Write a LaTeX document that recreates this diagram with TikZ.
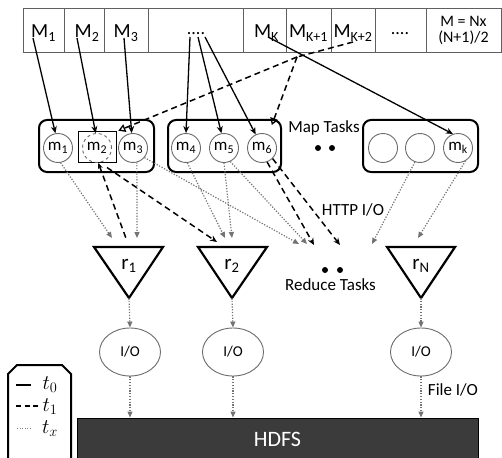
\documentclass[tikz,border=0pt]{standalone}
\usepackage{fontspec}
\setmainfont{Carlito}
\usetikzlibrary{arrows.meta,shapes.geometric,calc}
\begin{document}
\begin{tikzpicture}[x=1pt,y=-1pt,
  cellbase/.style={draw=gray!75!black, line width=0.9pt, minimum height=44pt, inner sep=0pt},
  cell/.style={cellbase, text height=18pt, text depth=2pt, font=\fontsize{20}{22}\selectfont},
  mapbox/.style={draw, line width=2pt, rounded corners=8pt, minimum height=52pt, inner sep=0pt},
  mc/.style={circle, draw=gray!85!black, line width=0.9pt, minimum size=29pt, inner sep=0pt, font=\fontsize{17}{18}\selectfont},
  tri/.style={draw, line width=2.2pt, line join=miter},
  lbl/.style={font=\fontsize{17}{18}\selectfont, inner sep=1pt},
  io/.style={ellipse, draw=gray!85!black, line width=0.9pt, minimum width=61pt, minimum height=48pt, inner sep=0pt, font=\fontsize{15}{16}\selectfont},
  lgtext/.style={font=\fontsize{20}{20}\selectfont, inner sep=0pt},
  tzero/.style={line width=1.3pt, -{Stealth[length=7pt,width=6pt]}},
  tone/.style={line width=1.5pt, dash pattern=on 6pt off 4pt, -{Stealth[length=7pt,width=6pt]}},
  toneopen/.style={line width=1.5pt, dash pattern=on 6pt off 4pt, -{Triangle[open,length=7pt,width=8pt,line width=1.3pt]}},
  tx/.style={draw=gray!90!black, line width=1.2pt, dash pattern=on 1.2pt off 1.6pt, -{Triangle[length=6pt,width=5pt,fill=gray!90!black]}}
]
\useasboundingbox (0,0) rectangle (502,457);
\fill[white] (0,0) rectangle (502,457);

% top strip
\node[cell, minimum width=41pt] (c1) at (43.5,30) {M\textsubscript{1}};
\node[cell, minimum width=40pt] (c2) at (84,30) {\hspace{6pt}M\textsubscript{2}};
\node[cell, minimum width=44pt] (c3) at (126,30) {M\textsubscript{3}};
\node[cell, minimum width=95pt] (c4) at (195.5,30) {};
\node[lbl, font=\fontsize{18}{18}\selectfont] (dots1) at (196,34) {....};
\node[cell, minimum width=43pt] (c5) at (264.5,30) {\hspace{4pt}M\textsubscript{K}};
\node[cell, minimum width=45pt] (c6) at (308.5,30) {M\textsubscript{K+1}};
\node[cell, minimum width=44pt] (c7) at (353,30) {M\textsubscript{K+2}};
\node[cell, minimum width=51pt] (c8) at (400.5,30) {};
\node[lbl, font=\fontsize{18}{18}\selectfont] (dots2) at (400,34) {....};
\node[cellbase, minimum width=75pt, align=center, font=\fontsize{16}{16}\selectfont] (c9) at (463.5,30) {M = Nx\\(N+1)/2};

% map tasks
\node[mapbox, minimum width=115pt] (b1) at (96.5,146) {};
\node[mapbox, minimum width=113pt] (b2) at (224.5,146) {};
\node[mapbox, minimum width=115pt] (b3) at (420.5,146) {};
\node[mc] (m1) at (58,148) {m\textsubscript{1}};
\node[draw, line width=1pt, minimum width=38pt, minimum height=30pt, inner sep=0pt] (m2box) at (97,147) {};
\node[mc, dashed] (m2) at (97,148) {m\textsubscript{2}};
\node[mc] (m3) at (133,148) {m\textsubscript{3}};
\node[mc] (m4) at (186,148) {m\textsubscript{4}};
\node[mc] (m5) at (224,148) {m\textsubscript{5}};
\node[mc] (m6) at (262,148) {m\textsubscript{6}};
\node[mc] (n1) at (383,148) {};
\node[mc] (n2) at (420,148) {};
\node[mc] (mk) at (458,148) {m\textsubscript{k}};
\node[lbl] (maptasks) at (324,128) {Map Tasks};
\fill (318,148) circle (3pt) (332,148) circle (3pt);

% reduce tasks
\draw[tri] (94,247) -- (163,247) -- (129,298) -- cycle;
\draw[tri] (198,247) -- (267,247) -- (232,298) -- cycle;
\draw[tri] (387,247) -- (455,247) -- (421,298) -- cycle;
\node[font=\fontsize{21}{22}\selectfont, inner sep=0pt] (r1) at (129,266) {r\textsubscript{1}};
\node[font=\fontsize{21}{22}\selectfont, inner sep=0pt] (r2) at (232,266) {r\textsubscript{2}};
\node[font=\fontsize{21}{22}\selectfont, inner sep=0pt] (rN) at (421,266) {r\textsubscript{N}};
\coordinate (r1a) at (129,298);
\coordinate (r2a) at (232,298);
\coordinate (rNa) at (421,298);
\fill (325,270) circle (3pt) (340,270) circle (3pt);
\node[lbl] (redtasks) at (330.5,285) {Reduce Tasks};
\node[lbl] (http) at (353,210) {HTTP I/O};

% I/O and HDFS
\node[io] (io1) at (130,352) {I/O};
\node[io] (io2) at (233,352) {I/O};
\node[io] (io3) at (421,352) {I/O};
\node[lbl] (fileio) at (453,390) {File I/O};
\node[draw, line width=1pt, fill=black!77, text=white, minimum width=401pt, minimum height=42pt, inner sep=0pt, font=\fontsize{22}{22}\selectfont] (hdfs) at (277.5,439) {HDFS};

% legend
\draw[line width=2pt] (8,462) -- (8,374) -- (17,365) -- (62,365) -- (71,374) -- (71,462);
\draw[line width=2pt] (16,385) -- (31,385);
\draw[line width=1.8pt, dash pattern=on 5pt off 3.5pt] (16,406) -- (40,406);
\draw[line width=0.8pt, gray, dash pattern=on 1pt off 1.5pt] (17,428) -- (31,428);
\node[lgtext] (lg0) at (50,385) {$t_0$};
\node[lgtext] (lg1) at (50,407) {$t_1$};
\node[lgtext] (lgx) at (50,429) {$t_x$};

% coordinates at the top
\coordinate (s1) at (33,38);
\coordinate (s2) at (77,38);
\coordinate (s3) at (124,38);
\coordinate (s4) at (190,37);
\coordinate (s5) at (198,37);
\coordinate (s6) at (205,37);
\coordinate (sK) at (268,37);
\coordinate (sK2) at (353,42);
\coordinate (j) at (297,57);

% t0 solid
\draw[tzero] (s1) -- (m1.100);
\draw[tzero] (s2) -- (m2.95);
\draw[tzero] (s3) -- (m3.95);
\draw[tzero] (s4) -- (m4.90);
\draw[tzero] (s5) -- (m5.100);
\draw[tzero] (s6) -- (m6.115);
\draw[tzero] (sK) -- (mk.110);

% t1 dashed
\draw[line width=1.5pt, dash pattern=on 6pt off 4pt] (sK2) -- (j);
\draw[toneopen, shorten >=2pt] (j) -- (m2box.north east);
\draw[toneopen, shorten >=10pt] (j) -- (m6.65);
\draw[tone, {Stealth[length=6pt,width=5pt]}-] (m2.-85) -- (127,241);
\draw[tone] ($(m2box.south)+(10,5)$) -- (217,242);
\draw[tone] (m6.-70) -- (314,245);
\draw[tone] (m6.-45) -- (340,245);

% tx dotted
\draw[tx] (m1.-80) -- (112,238);
\draw[tx] (m3.-75) -- (137,238);
\draw[tx] (m3.-40) -- (299,244);
\draw[tx] (m4.-85) -- (225,238);
\draw[tx] (m5.-90) -- (232,238);
\draw[tx] (m5.-65) -- (307,244);
\draw[tx] (n2.-110) -- (372,244);
\draw[tx] (mk.-60) -- (418,238);
\draw[tx] (r1a) -- (io1.north);
\draw[tx] (r2a) -- (io2.north);
\draw[tx] (rNa) -- (io3.north);
\draw[tx] (io1.south) -- (io1.south |- hdfs.north);
\draw[tx] (io2.south) -- (io2.south |- hdfs.north);
\draw[tx] (io3.south) -- (io3.south |- hdfs.north);
\end{tikzpicture}
\end{document}
